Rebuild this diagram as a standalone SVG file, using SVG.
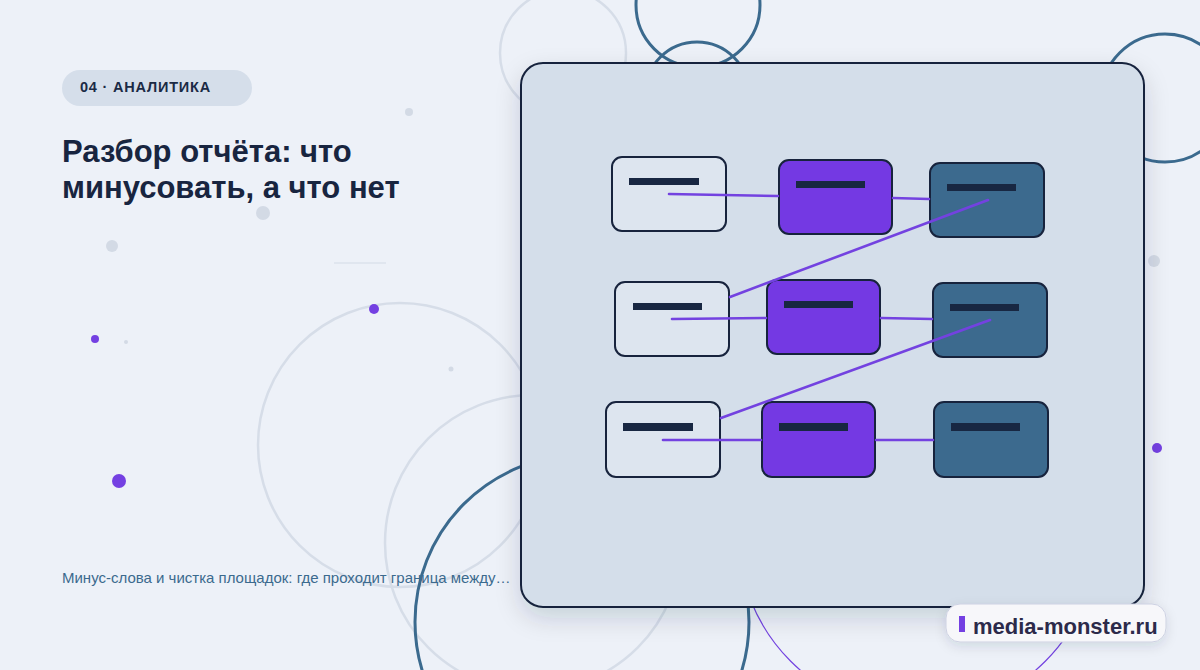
<svg xmlns="http://www.w3.org/2000/svg" width="1200" height="670" viewBox="0 0 1200 670">
<defs>
<style>
.bgc{fill:none;stroke:#d6dde8;stroke-width:2.5}
.dkc{fill:none;stroke:#3b6a8e;stroke-width:3}
.pc{fill:none;stroke:#7342e0;stroke-width:1.2}
.gd{fill:#d3dae5}
.pd{fill:#7440e2}
.node{stroke:#17233d;stroke-width:2}
.lt{fill:#dde5ef}
.pu{fill:#7439e3}
.bl{fill:#3c6a8e}
.bar{fill:#182742}
.edge{stroke:#7342e0;stroke-width:2.6;fill:none;stroke-linecap:round}
</style>
<filter id="sh" x="-10%" y="-10%" width="120%" height="125%">
<feDropShadow dx="0" dy="10" stdDeviation="12" flood-color="#1a2540" flood-opacity="0.16"/>
</filter>
<filter id="sh2" x="-20%" y="-40%" width="140%" height="190%">
<feDropShadow dx="0" dy="4" stdDeviation="6" flood-color="#1a2540" flood-opacity="0.12"/>
</filter>
</defs>
<rect width="1200" height="670" fill="#edf1f8"/>
<g id="background">
<circle class="bgc" cx="563" cy="53" r="63"/>
<circle class="bgc" cx="400" cy="445" r="142"/>
<circle class="bgc" cx="533" cy="543" r="148"/>
<circle class="dkc" cx="698" cy="5" r="62"/>
<circle class="dkc" cx="697" cy="94" r="52"/>
<circle class="dkc" cx="1165" cy="98" r="64"/>
<circle class="dkc" cx="582" cy="622" r="167"/>
<circle class="pc" cx="918" cy="534" r="180"/>
<line x1="334" y1="263" x2="386" y2="263" stroke="#d3dbe6" stroke-width="1"/>
<circle class="gd" cx="409" cy="112" r="4"/>
<circle class="gd" cx="263" cy="213" r="7"/>
<circle class="gd" cx="112" cy="246" r="6"/>
<circle class="gd" cx="126" cy="342" r="2"/>
<circle class="gd" cx="451" cy="369" r="2.5"/>
<circle class="gd" cx="1154" cy="261" r="6"/>
<circle class="pd" cx="374" cy="309" r="5"/>
<circle class="pd" cx="95" cy="339" r="4"/>
<circle class="pd" cx="119" cy="481" r="7"/>
<circle class="pd" cx="1157" cy="448" r="5"/>
</g>
<g id="header">
<rect x="62" y="70" width="190" height="36" rx="18" fill="#d5deea"/>
<text x="80" y="92" font-family="Liberation Sans, Arial, sans-serif" font-size="14.5" font-weight="bold" letter-spacing="0.8" fill="#1b2a45">04 · АНАЛИТИКА</text>
<text font-family="Liberation Sans, Arial, sans-serif" font-size="31" font-weight="bold" fill="#182540">
<tspan x="62" y="162">Разбор отчёта: что</tspan>
<tspan x="62" y="198">минусовать, а что нет</tspan>
</text>
<text x="62" y="583" font-family="Liberation Sans, Arial, sans-serif" font-size="15" fill="#3b6a8e">Минус-слова и чистка площадок: где проходит граница между…</text>
</g>
<g id="panel">
<rect x="521" y="63" width="623" height="544" rx="22" fill="#d4deea" stroke="#17233d" stroke-width="2" filter="url(#sh)"/>
</g>
<g id="n1"><rect class="node lt" x="612" y="157" width="114" height="74" rx="10"/><rect class="bar" x="629" y="178" width="70" height="7"/></g>
<g id="n2"><rect class="node pu" x="779" y="160" width="113" height="74" rx="10"/><rect class="bar" x="796" y="181" width="69" height="7"/></g>
<g id="n3"><rect class="node bl" x="930" y="163" width="114" height="74" rx="10"/><rect class="bar" x="947" y="184" width="69" height="7"/></g>
<g id="n4"><rect class="node lt" x="615" y="282" width="114" height="74" rx="10"/><rect class="bar" x="633" y="303" width="69" height="7"/></g>
<g id="n5"><rect class="node pu" x="767" y="280" width="113" height="74" rx="10"/><rect class="bar" x="784" y="301" width="69" height="7"/></g>
<g id="n6"><rect class="node bl" x="933" y="283" width="114" height="74" rx="10"/><rect class="bar" x="950" y="304" width="69" height="7"/></g>
<g id="n7"><rect class="node lt" x="606" y="402" width="114" height="75" rx="10"/><rect class="bar" x="623" y="423" width="70" height="8"/></g>
<g id="n8"><rect class="node pu" x="762" y="402" width="113" height="75" rx="10"/><rect class="bar" x="779" y="423" width="69" height="8"/></g>
<g id="n9"><rect class="node bl" x="934" y="402" width="114" height="75" rx="10"/><rect class="bar" x="951" y="423" width="69" height="8"/></g>
<g id="connectors">
<line class="edge" x1="669" y1="194" x2="778" y2="196"/>
<line class="edge" x1="893" y1="198" x2="929" y2="199"/>
<line class="edge" x1="988" y1="200" x2="730" y2="297"/>
<line class="edge" x1="672" y1="319" x2="766" y2="318"/>
<line class="edge" x1="881" y1="318" x2="932" y2="319"/>
<line class="edge" x1="990" y1="320" x2="721" y2="418"/>
<line class="edge" x1="663" y1="440" x2="761" y2="440"/>
<line class="edge" x1="876" y1="440" x2="933" y2="440"/>
</g>
<g id="logo">
<rect x="946" y="604" width="220" height="38" rx="14" fill="#f7f7fa" stroke="#cdd1e2" stroke-width="1" filter="url(#sh2)"/>
<rect x="959" y="616" width="6" height="16" fill="#7440e2"/>
<text x="973" y="634" font-family="Liberation Sans, Arial, sans-serif" font-size="22" font-weight="bold" fill="#2c2a4a">media-monster.ru</text>
</g>
</svg>
